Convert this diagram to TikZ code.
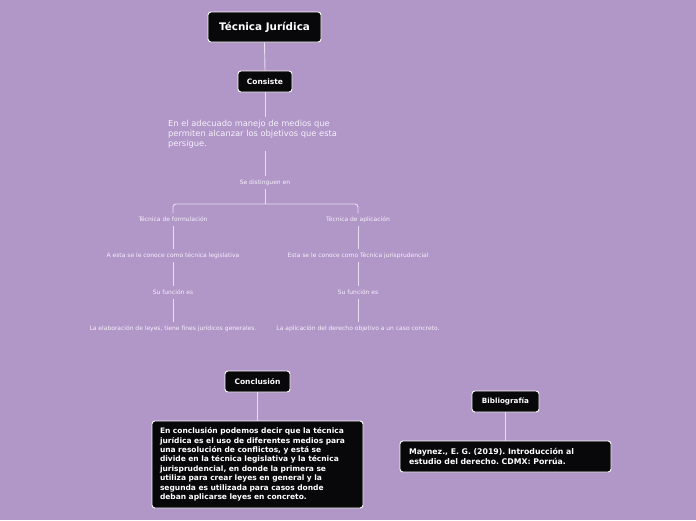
\documentclass[tikz,border=0pt]{standalone}
\usepackage{fontspec}
\setmainfont{DejaVu Sans}
\frenchspacing
\definecolor{bg}{RGB}{177,150,200}
\definecolor{ln}{RGB}{232,224,240}
\definecolor{tx}{RGB}{246,242,250}
\definecolor{bx}{RGB}{8,8,10}
\begin{document}
\begin{tikzpicture}[x=1pt,y=-1pt,
  box/.style={draw=white, line width=0.9pt, fill=bx, rounded corners=3pt, text=white, inner sep=0pt},
  lbl/.style={text=tx, font=\fontsize{6}{7}\selectfont, inner sep=3pt, text height=4.6pt, text depth=1.4pt},
  conn/.style={draw=ln, line width=0.9pt}]
\fill[bg] (0,0) rectangle (696,520);
\useasboundingbox (0,0) rectangle (696,520);
\node[box, font=\bfseries\fontsize{10.4}{12}\selectfont, minimum width=113pt, minimum height=30pt] (title) at (264.5,27) {Técnica Jurídica};
\node[box, font=\bfseries\fontsize{7.5}{9}\selectfont, minimum width=54pt, minimum height=21pt] (consiste) at (265,81.5) {Consiste};
\node[text=tx, font=\fontsize{8.3}{10}\selectfont, align=left, anchor=north west, inner sep=3pt] (desc) at (165,117) {En el adecuado manejo de medios que\\permiten alcanzar los objetivos que esta\\persigue.};
\node[lbl] (dist) at (265,182.5) {Se distinguen en};
\coordinate (bar) at (265,204);
\node[lbl] (form) at (173,219.5) {Técnica de formulación};
\node[lbl] (apl) at (358,219.5) {Técnica de aplicación};
\node[lbl] (leg) at (173,255.5) {A esta se le conoce como técnica legislativa};
\node[lbl] (jur) at (358,255.5) {Esta se le conoce como Técnica jurisprudencial};
\node[lbl] (fun1) at (173,292.5) {Su función es};
\node[lbl] (fun2) at (358,292.5) {Su función es};
\node[lbl] (res1) at (173,328.5) {La elaboración de leyes, tiene fines jurídicos generales.};
\node[lbl] (res2) at (358,328.5) {La aplicación del derecho objetivo a un caso concreto.};
\node[box, font=\bfseries\fontsize{7.5}{9}\selectfont, minimum width=65pt, minimum height=21pt] (concl) at (257.5,381.5) {Conclusión};
\node[box, font=\bfseries\fontsize{7.5}{9.4}\selectfont, minimum width=211pt, minimum height=87pt, text width=195pt, align=left] (concltext) at (257.5,464.5) {En conclusión podemos decir que la técnica\\jurídica es el uso de diferentes medios para\\una resolución de conflictos, y está se\\divide en la técnica legislativa y la técnica\\jurisprudencial, en donde la primera se\\utiliza para crear leyes en general y la\\segunda es utilizada para casos donde\\deban aplicarse leyes en concreto.};
\node[box, font=\bfseries\fontsize{7.2}{9}\selectfont, minimum width=67pt, minimum height=21pt] (bib) at (505.5,401.5) {Bibliografía};
\node[box, font=\bfseries\fontsize{7.8}{9.3}\selectfont, minimum width=211pt, minimum height=31pt, text width=193pt, align=left] (bibtext) at (505.5,456.5) {Maynez., E. G. (2019). Introducción al\\estudio del derecho. CDMX: Porrúa.};
\draw[conn] (title.south) -- (consiste.north);
\draw[conn] (consiste.south) -- (consiste.south |- desc.north);
\draw[conn] (dist.north |- desc.south) -- (dist.north);
\draw[conn] (dist.south) -- (bar);
\draw[conn, rounded corners=3pt] (form.north) -- (form.north |- bar) -- (apl.north |- bar) -- (apl.north);
\draw[conn] (form.south) -- (leg.north);
\draw[conn] (leg.south) -- (fun1.north);
\draw[conn] (fun1.south) -- (res1.north);
\draw[conn] (apl.south) -- (jur.north);
\draw[conn] (jur.south) -- (fun2.north);
\draw[conn] (fun2.south) -- (res2.north);
\draw[conn] (concl.south) -- (concltext.north);
\draw[conn] (bib.south) -- (bibtext.north);
\end{tikzpicture}
\end{document}
